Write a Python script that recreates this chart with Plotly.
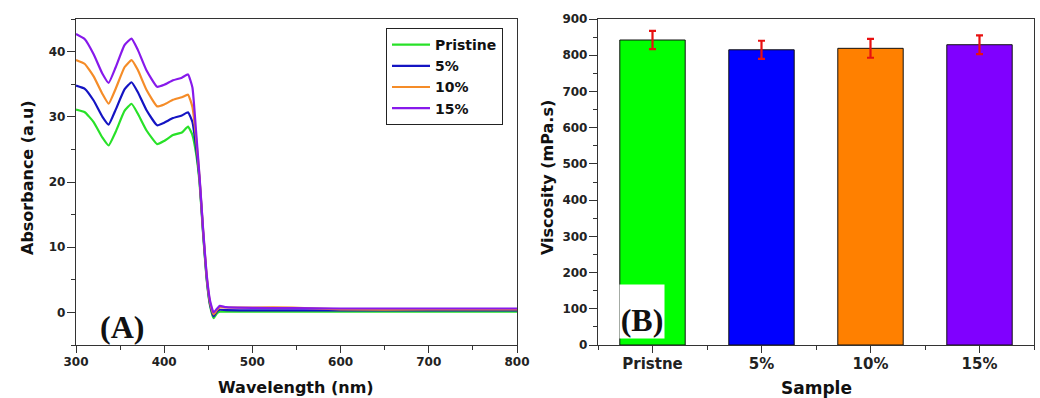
import plotly.graph_objects as go

# ---- Panel A data: UV-vis absorbance ----
wavelength = [300, 310, 320, 330, 337, 345, 355, 363, 370, 380, 392, 400, 410, 420, 427,
              432, 436, 440, 444, 448, 452, 456, 460, 463, 470, 500, 545, 600, 700, 800]
abs_pristine = [31.1, 30.7, 29.2, 26.8, 25.6, 27.7, 30.9, 32.0, 30.5, 27.9, 25.8, 26.3, 27.2, 27.6, 28.5,
                27.2, 24.5, 20.0, 12.2, 5.2, 1.0, -0.9, -0.1, 0.1, 0.1, 0.1, 0.1, 0.1, 0.1, 0.1]
abs_5 = [34.8, 34.3, 32.5, 30.0, 28.8, 31.1, 34.2, 35.3, 33.8, 31.0, 28.7, 29.1, 29.8, 30.2, 30.7,
         29.2, 25.5, 20.5, 12.5, 5.5, 1.2, -0.6, 0.2, 0.4, 0.35, 0.3, 0.3, 0.3, 0.3, 0.3]
abs_10 = [38.7, 38.1, 36.2, 33.5, 32.0, 34.3, 37.6, 38.7, 37.2, 34.1, 31.6, 31.9, 32.6, 33.0, 33.4,
          31.5, 27.0, 20.8, 12.8, 5.8, 1.5, -0.3, 0.4, 0.8, 0.75, 0.75, 0.75, 0.45, 0.45, 0.45]
abs_15 = [42.7, 41.9, 39.6, 36.6, 35.2, 37.6, 41.0, 42.0, 40.3, 37.1, 34.6, 34.9, 35.6, 36.0, 36.5,
          34.5, 28.0, 21.0, 13.0, 6.0, 1.8, 0.0, 0.6, 1.0, 0.8, 0.7, 0.65, 0.6, 0.6, 0.6]

series_names = ["Pristine", "5%", "10%", "15%"]
line_colors = ["rgb(40,225,40)", "rgb(20,20,195)", "rgb(245,140,40)", "rgb(135,25,235)"]

# ---- Panel B data: viscosity ----
samples = ["Pristne", "5%", "10%", "15%"]
viscosity = [842, 815, 819, 829]
viscosity_err = [25, 25, 26, 26]
bar_colors = ["#00FF00", "#0000FF", "#FF8000", "#8000FF"]

FONT = "DejaVu Sans"
W, H = 1040, 398
fig = go.Figure()

for name, ys, c in zip(series_names, [abs_pristine, abs_5, abs_10, abs_15], line_colors):
    fig.add_trace(go.Scatter(x=wavelength, y=ys, mode="lines", name=name,
                             line=dict(color=c, width=2.2, shape="spline", smoothing=0.4),
                             xaxis="x", yaxis="y"))

fig.add_trace(go.Bar(x=list(range(len(samples))), y=viscosity, width=0.6,
                     marker=dict(color=bar_colors, line=dict(color="#111", width=1)),
                     error_y=dict(type="data", array=viscosity_err, color="#E81010",
                                  thickness=2.2, width=3.5),
                     showlegend=False, xaxis="x2", yaxis="y2"))

tickfont = dict(family=FONT, size=12, color="#222", weight="bold")
common = dict(showline=True, linecolor="#333", linewidth=1.3, mirror=True,
              ticks="outside", tickwidth=1.3, tickcolor="#333",
              showgrid=False, zeroline=False, automargin=False)
xcommon = dict(ticklen=7, ticklabelstandoff=-2, **common)
ycommon = dict(ticklen=8, ticklabelstandoff=-1, tickfont=tickfont, **common)

ydom = [53 / H, 379 / H]
fig.update_layout(
    width=W, height=H,
    margin=dict(l=0, r=0, t=0, b=0, autoexpand=False),
    paper_bgcolor="white", plot_bgcolor="white",
    xaxis=dict(domain=[76 / W, 517 / W], range=[300, 800], tick0=300, dtick=100,
               tickfont=tickfont,
               minor=dict(ticks="outside", ticklen=4, dtick=50, tickcolor="#333", tickwidth=1.3),
               anchor="y", **xcommon),
    yaxis=dict(domain=ydom, range=[-5, 45], tick0=0, dtick=10,
               minor=dict(ticks="outside", ticklen=4, dtick=5, tickcolor="#333", tickwidth=1.3),
               anchor="x", **ycommon),
    xaxis2=dict(domain=[598 / W, 1034 / W], range=[-0.5, 3.5],
                tickvals=list(range(len(samples))), ticktext=samples,
                tickfont=dict(family=FONT, size=15, color="#222", weight="bold"),
                minor=dict(ticks="outside", ticklen=4, tick0=0.5, dtick=1, tickcolor="#333", tickwidth=1.3),
                anchor="y2", **xcommon),
    yaxis2=dict(domain=ydom, range=[0, 900], tick0=0, dtick=100,
                minor=dict(ticks="outside", ticklen=4, dtick=50, tickcolor="#333", tickwidth=1.3),
                anchor="x2", **ycommon),
    legend=dict(x=386 / W, y=1 - 28 / H, xanchor="left", yanchor="top",
                bgcolor="white", bordercolor="#222", borderwidth=1,
                font=dict(family=FONT, size=14, color="#111", weight="bold"),
                tracegroupgap=0, itemwidth=38),
    showlegend=True,
)

ann_font = dict(family=FONT, size=16, color="#111", weight="bold")
fig.add_annotation(text="Wavelength (nm)", x=296 / W, y=1 - 387 / H, xref="paper", yref="paper",
                   showarrow=False, font=ann_font, xanchor="center", yanchor="middle")
fig.add_annotation(text="Sample", x=816 / W, y=1 - 388 / H, xref="paper", yref="paper",
                   showarrow=False, font=dict(family=FONT, size=17, color="#111", weight="bold"),
                   xanchor="center", yanchor="middle")
fig.add_annotation(text="Absorbance (a.u)", x=27 / W, y=1 - 178 / H, xref="paper", yref="paper",
                   showarrow=False, font=ann_font, textangle=-90, xanchor="center", yanchor="middle")
fig.add_annotation(text="Viscosity (mPa.s)", x=547 / W, y=1 - 178 / H, xref="paper", yref="paper",
                   showarrow=False, font=ann_font, textangle=-90, xanchor="center", yanchor="middle")

label_font = dict(family="Liberation Serif", size=32, color="#111", weight="bold")
fig.add_annotation(text="(A)", x=122 / W, y=1 - 327 / H, xref="paper", yref="paper",
                   showarrow=False, font=label_font, xanchor="center", yanchor="middle")
fig.add_annotation(text="(B)", x=642 / W, y=1 - 311.5 / H, xref="paper", yref="paper",
                   showarrow=False, font=label_font, xanchor="center", yanchor="middle",
                   bgcolor="white", width=44, height=53, valign="bottom", borderpad=0)

fig.write_html("out.html", config={"displayModeBar": False},
               post_script="document.body.style.margin='0';document.body.style.overflow='hidden';")
